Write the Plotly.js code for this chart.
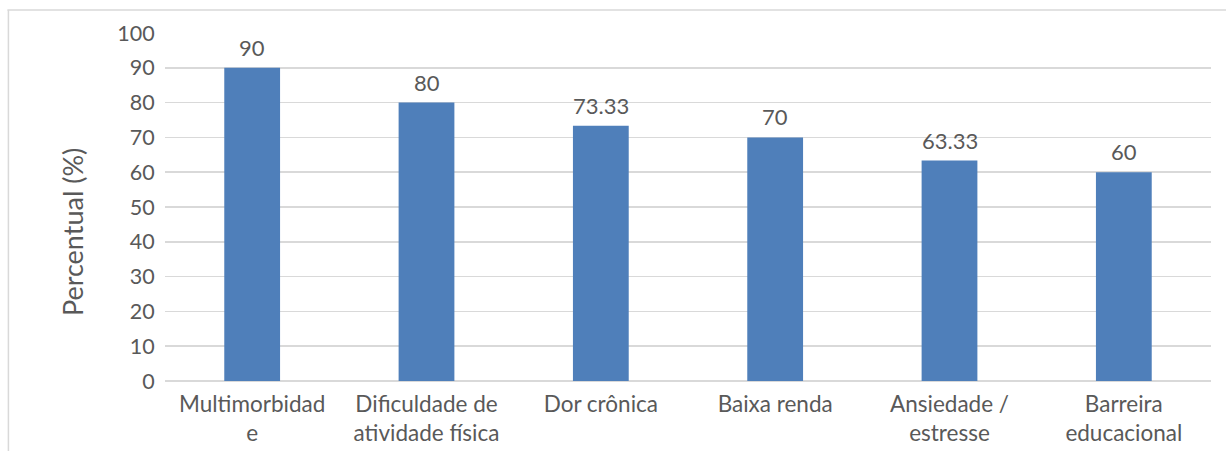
<!DOCTYPE html>
<html>
<head>
<meta charset="utf-8">
<script src="https://cdn.plot.ly/plotly-3.0.1.min.js"></script>
<style>html,body{margin:0;padding:0;background:#fff;}#chart{width:1226px;height:451px;}</style>
</head>
<body>
<div id="chart"></div>
<script>
const categories = ["Multimorbidad<br>e", "Dificuldade de<br>atividade física", "Dor crônica", "Baixa renda", "Ansiedade /<br>estresse", "Barreira<br>educacional"];
const values = [90, 80, 73.33, 70, 63.33, 60];
const valueLabels = ["90", "80", "73.33", "70", "63.33", "60"];
const yTitle = "Percentual (%)";

const fam = "Lato, 'Open Sans', sans-serif";
const gray = "#595959";
const tickFont = {family: fam, size: 21.5, color: gray};
const catFont = {family: fam, size: 22.5, color: gray};
const labelFont = {family: fam, size: 22, color: gray};
const titleFont = {family: fam, size: 27, color: gray};

const trace = {
  type: "bar",
  x: categories,
  y: values,
  marker: {color: "#4f7fba"},
  hoverinfo: "none"
};

const annotations = categories.map((c, i) => ({
  x: c, y: values[i], xref: "x", yref: "y",
  text: valueLabels[i], showarrow: false,
  yanchor: "bottom", yshift: 5, font: labelFont
}));
annotations.push({
  xref: "paper", yref: "paper", x: -0.0889, y: 0.428,
  xanchor: "center", yanchor: "middle", textangle: -90,
  text: yTitle, showarrow: false, font: titleFont
});

const layout = {
  width: 1226, height: 451,
  margin: {l: 165, r: 15, t: 33, b: 70},
  paper_bgcolor: "#fff", plot_bgcolor: "#fff",
  font: tickFont,
  showlegend: false,
  bargap: 0.68,
  xaxis: {
    showgrid: false, zeroline: false, showline: false,
    ticks: "", tickfont: catFont, automargin: false, ticklabelstandoff: 7
  },
  yaxis: {
    range: [0, 100], dtick: 10, tick0: 0,
    showgrid: true, gridcolor: "#d9d9d9", gridwidth: 1.5,
    zeroline: true, zerolinecolor: "#d9d9d9", zerolinewidth: 1.5,
    showline: false,
    ticks: "outside", ticklen: 5, tickcolor: "rgba(0,0,0,0)",
    tickfont: tickFont, automargin: false
  },
  annotations: annotations,
  shapes: [
    {type: "line", xref: "paper", yref: "paper", x0: -0.1507, x1: 1.02, y0: 1.066, y1: 1.066, line: {color: "#d9d9d9", width: 1.5}},
    {type: "line", xref: "paper", yref: "paper", x0: -0.1497, x1: -0.1497, y0: 1.066, y1: -0.21, line: {color: "#d9d9d9", width: 1.5}}
  ]
};

Plotly.newPlot("chart", [trace], layout, {staticPlot: true, displayModeBar: false});
</script>
</body>
</html>
